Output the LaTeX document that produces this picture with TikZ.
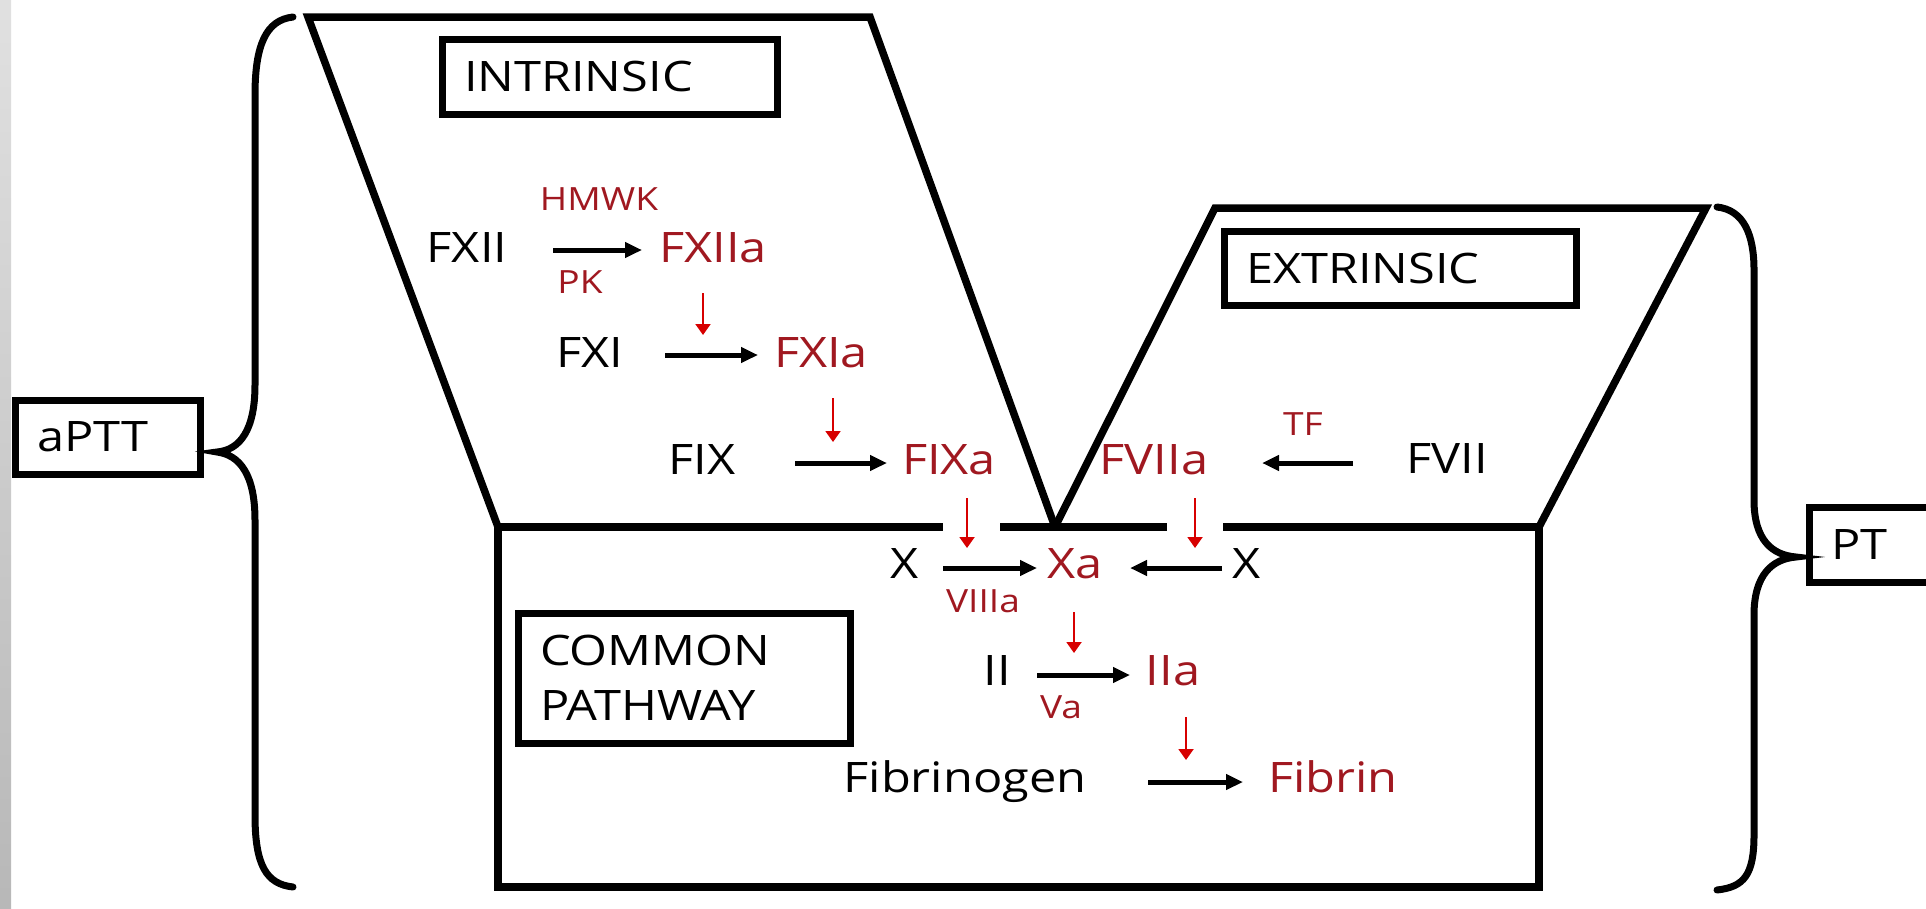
\documentclass[tikz,border=0pt]{standalone}
\usepackage{fontspec}
\setmainfont{Open Sans}[FakeStretch=1.16]
\usetikzlibrary{arrows.meta}
\definecolor{txtred}{RGB}{160,24,32}
\definecolor{arrred}{RGB}{215,0,0}
\tikzset{
  big/.style={font=\fontsize{42}{50}\selectfont, inner sep=0pt, anchor=base},
  small/.style={font=\fontsize{32}{38}\selectfont, inner sep=0pt, anchor=base, text=txtred},
  act/.style={text=txtred},
  frame/.style={line width=7.5pt, line join=miter},
  labelbox/.style={draw, line width=7pt, outer sep=0pt, inner ysep=0pt, inner xsep=22pt, align=left, font=\fontsize{42}{55}\selectfont, anchor=north west},
  blk/.style={line width=5pt, -{Triangle[length=17pt,width=15pt]}},
  redarr/.style={draw=arrred, line width=2pt, -{Triangle[length=11pt,width=15pt]}, arrred},
  brace/.style={line width=7pt, line cap=round},
}
\begin{document}
\begin{tikzpicture}[x=1pt,y=-1pt]
\useasboundingbox (0,0) rectangle (1926,908);
\clip (0,0) rectangle (1926,908);
\fill[white] (0,0) rectangle (1926,908);
\shade[top color=black!12, bottom color=black!28] (0,0) rectangle (11,908);

% outline shapes
\draw[frame] (498,527) -- (308,17) -- (870,17) -- (1055,527);
\draw[frame] (1055,527) -- (1215,208) -- (1706,208) -- (1539,527);
\draw[frame] (498,523.25) -- (498,887) -- (1539,887) -- (1539,523.25);
\draw[frame] (498,527) -- (943,527);
\draw[frame] (1000,527) -- (1167,527);
\draw[frame] (1223,527) -- (1539,527);

% braces
\draw[brace] (293,17) .. controls (266,20) and (255,45) .. (255,95) -- (255,385)
  .. controls (255,430) and (240,450) .. (217,452)
  .. controls (240,455) and (255,475) .. (255,520) -- (255,815)
  .. controls (255,865) and (266,884) .. (293,887);
\draw[brace] (1717,207) .. controls (1744,210) and (1754,235) .. (1754,270) -- (1754,500)
  .. controls (1754,540) and (1772,555) .. (1796,557)
  .. controls (1772,559) and (1754,575) .. (1754,615) -- (1754,835)
  .. controls (1754,875) and (1744,887) .. (1717,890);

% label boxes
\node[labelbox, minimum width=335pt, minimum height=75pt, text width=291pt] (intr) at (442,39) {INTRINSIC};
\node[labelbox, minimum width=352pt, minimum height=74pt, text width=308pt] (extr) at (1224,231) {EXTRINSIC};
\node[labelbox, minimum width=332pt, minimum height=130pt, text width=288pt] (comm) at (518,613) {COMMON\\PATHWAY};
\node[labelbox, minimum width=185pt, minimum height=74pt, text width=141pt] (aptt) at (15,400) {aPTT};
\node[labelbox, minimum width=160pt, minimum height=75pt, text width=116pt] (pt) at (1809,507) {PT};

% texts
\node[small] (hmwk) at (599,210) {HMWK};
\node[big] (fxii) at (467,262) {FXII};
\node[big,act] (fxiia) at (713,262) {FXIIa};
\node[small] (pk) at (580,293) {PK};
\node[big] (fxi) at (590,367) {FXI};
\node[big,act] (fxia) at (821,367) {FXIa};
\node[big] (fix) at (702,474) {FIX};
\node[big,act] (fixa) at (949,474) {FIXa};
\node[big,act] (fviia) at (1154,474) {FVIIa};
\node[big] (fvii) at (1447,473) {FVII};
\node[small] (tf) at (1303,435) {TF};
\node[big] (xl) at (905,578) {X};
\node[big,act] (xa) at (1075,578) {Xa};
\node[big] (xr) at (1247,578) {X};
\node[small] (viiia) at (983,612) {VIIIa};
\node[big] (ii) at (997,685) {II};
\node[big,act] (iia) at (1173,685) {IIa};
\node[small] (va) at (1061,718) {Va};
\node[big] (fibrinogen) at (965,792) {Fibrinogen};
\node[big,act] (fibrin) at (1333,792) {Fibrin};

% black arrows
\coordinate (b1s) at (553,250); \coordinate (b1e) at (642,250);
\coordinate (b2s) at (665,355); \coordinate (b2e) at (758,355);
\coordinate (b3s) at (795,463); \coordinate (b3e) at (887,463);
\coordinate (b4s) at (1353,463); \coordinate (b4e) at (1262,463);
\coordinate (b5s) at (943,568); \coordinate (b5e) at (1037,568);
\coordinate (b6s) at (1222,568); \coordinate (b6e) at (1130,568);
\coordinate (b7s) at (1037,675); \coordinate (b7e) at (1130,675);
\coordinate (b8s) at (1148,782); \coordinate (b8e) at (1243,782);
\foreach \i in {1,...,8} { \draw[blk] (b\i s) -- (b\i e); }

% red arrows
\coordinate (r1s) at (703,293); \coordinate (r1e) at (703,335);
\coordinate (r2s) at (833,398); \coordinate (r2e) at (833,442);
\coordinate (r3s) at (967,498); \coordinate (r3e) at (967,548);
\coordinate (r4s) at (1195,498); \coordinate (r4e) at (1195,548);
\coordinate (r5s) at (1074,612); \coordinate (r5e) at (1074,653);
\coordinate (r6s) at (1186,717); \coordinate (r6e) at (1186,760);
\foreach \i in {1,...,6} { \draw[redarr] (r\i s) -- (r\i e); }
\end{tikzpicture}
\end{document}
